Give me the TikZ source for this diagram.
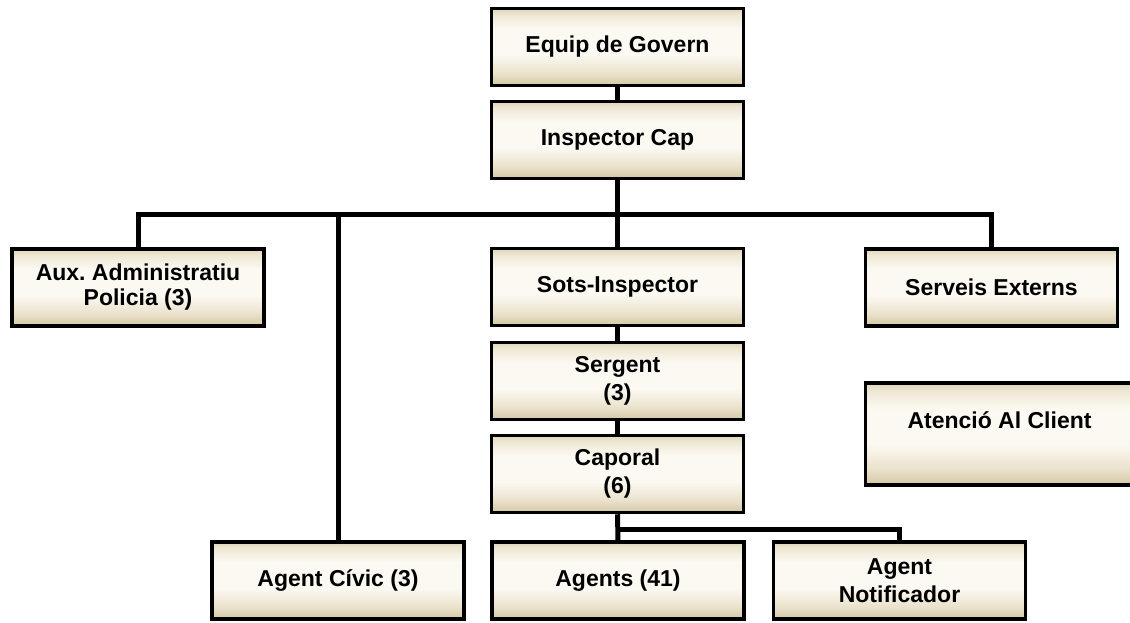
\documentclass[tikz,border=0pt]{standalone}
\usepackage{fontspec}
\setmainfont{Liberation Sans}
\frenchspacing
\usetikzlibrary{backgrounds}
\definecolor{boxtop}{RGB}{224,213,184}
\definecolor{boxtopb}{RGB}{238,231,212}
\definecolor{boxmid}{RGB}{251,249,242}
\definecolor{boxbotb}{RGB}{234,226,204}
\definecolor{boxbot}{RGB}{212,199,164}
\pgfdeclareverticalshading{orgshade}{100bp}{color(0bp)=(boxbot); color(25bp)=(boxbot); color(33bp)=(boxbotb); color(45bp)=(boxmid); color(62bp)=(boxmid); color(71bp)=(boxtopb); color(75bp)=(boxtop); color(100bp)=(boxtop)}
\tikzset{
  orgbox/.style={draw=black, line width=3.5pt, shading=orgshade,
    minimum width=252pt, minimum height=77pt, align=center, inner sep=0pt,
    font=\fontsize{23}{28}\selectfont\bfseries},
  link/.style={line width=5pt, black}
}
\begin{document}
\begin{tikzpicture}[x=1pt,y=-1pt]
\useasboundingbox (0,0) rectangle (1130,622);
\node[orgbox] (gov) at (617.5,47) {Equip de Govern};
\node[orgbox] (insp) at (617.5,140) {Inspector Cap};
\node[orgbox, font=\fontsize{23}{25}\selectfont\bfseries] (aux) at (138,287.5) {Aux. Administratiu\\Policia (3)};
\node[orgbox] (sots) at (617.5,287) {Sots-Inspector};
\node[orgbox] (serv) at (991.5,287.5) {Serveis Externs};
\node[orgbox] (serg) at (617.5,381) {Sergent\\(3)};
\node[orgbox] (capo) at (617.5,474) {Caporal\\(6)};
\node[orgbox, minimum width=280pt, minimum height=102pt, text height=17pt, text depth=28pt] (aten) at (1005.5,434) {Atenció Al Client\hspace*{12pt}};
\node[orgbox] (civic) at (338,580.5) {Agent Cívic (3)};
\node[orgbox] (agents) at (618,580.5) {Agents (41)};
\node[orgbox] (notif) at (899.5,580.5) {Agent\\Notificador};
\coordinate (bus) at (618,214);
\coordinate (split) at (618,529);
\begin{scope}[on background layer]
\draw[link] (gov.south) -- (insp.north);
\draw[link] (insp.south) -- (sots.north);
\draw[link] (aux.north) |- (bus) -| (serv.north);
\draw[link] (civic.north |- bus) -- (civic.north);
\draw[link] (sots.south) -- (serg.north);
\draw[link] (serg.south) -- (capo.north);
\draw[link] (capo.south) -- (agents.north);
\draw[link] (split) -| (notif.north);
\end{scope}
\end{tikzpicture}
\end{document}
